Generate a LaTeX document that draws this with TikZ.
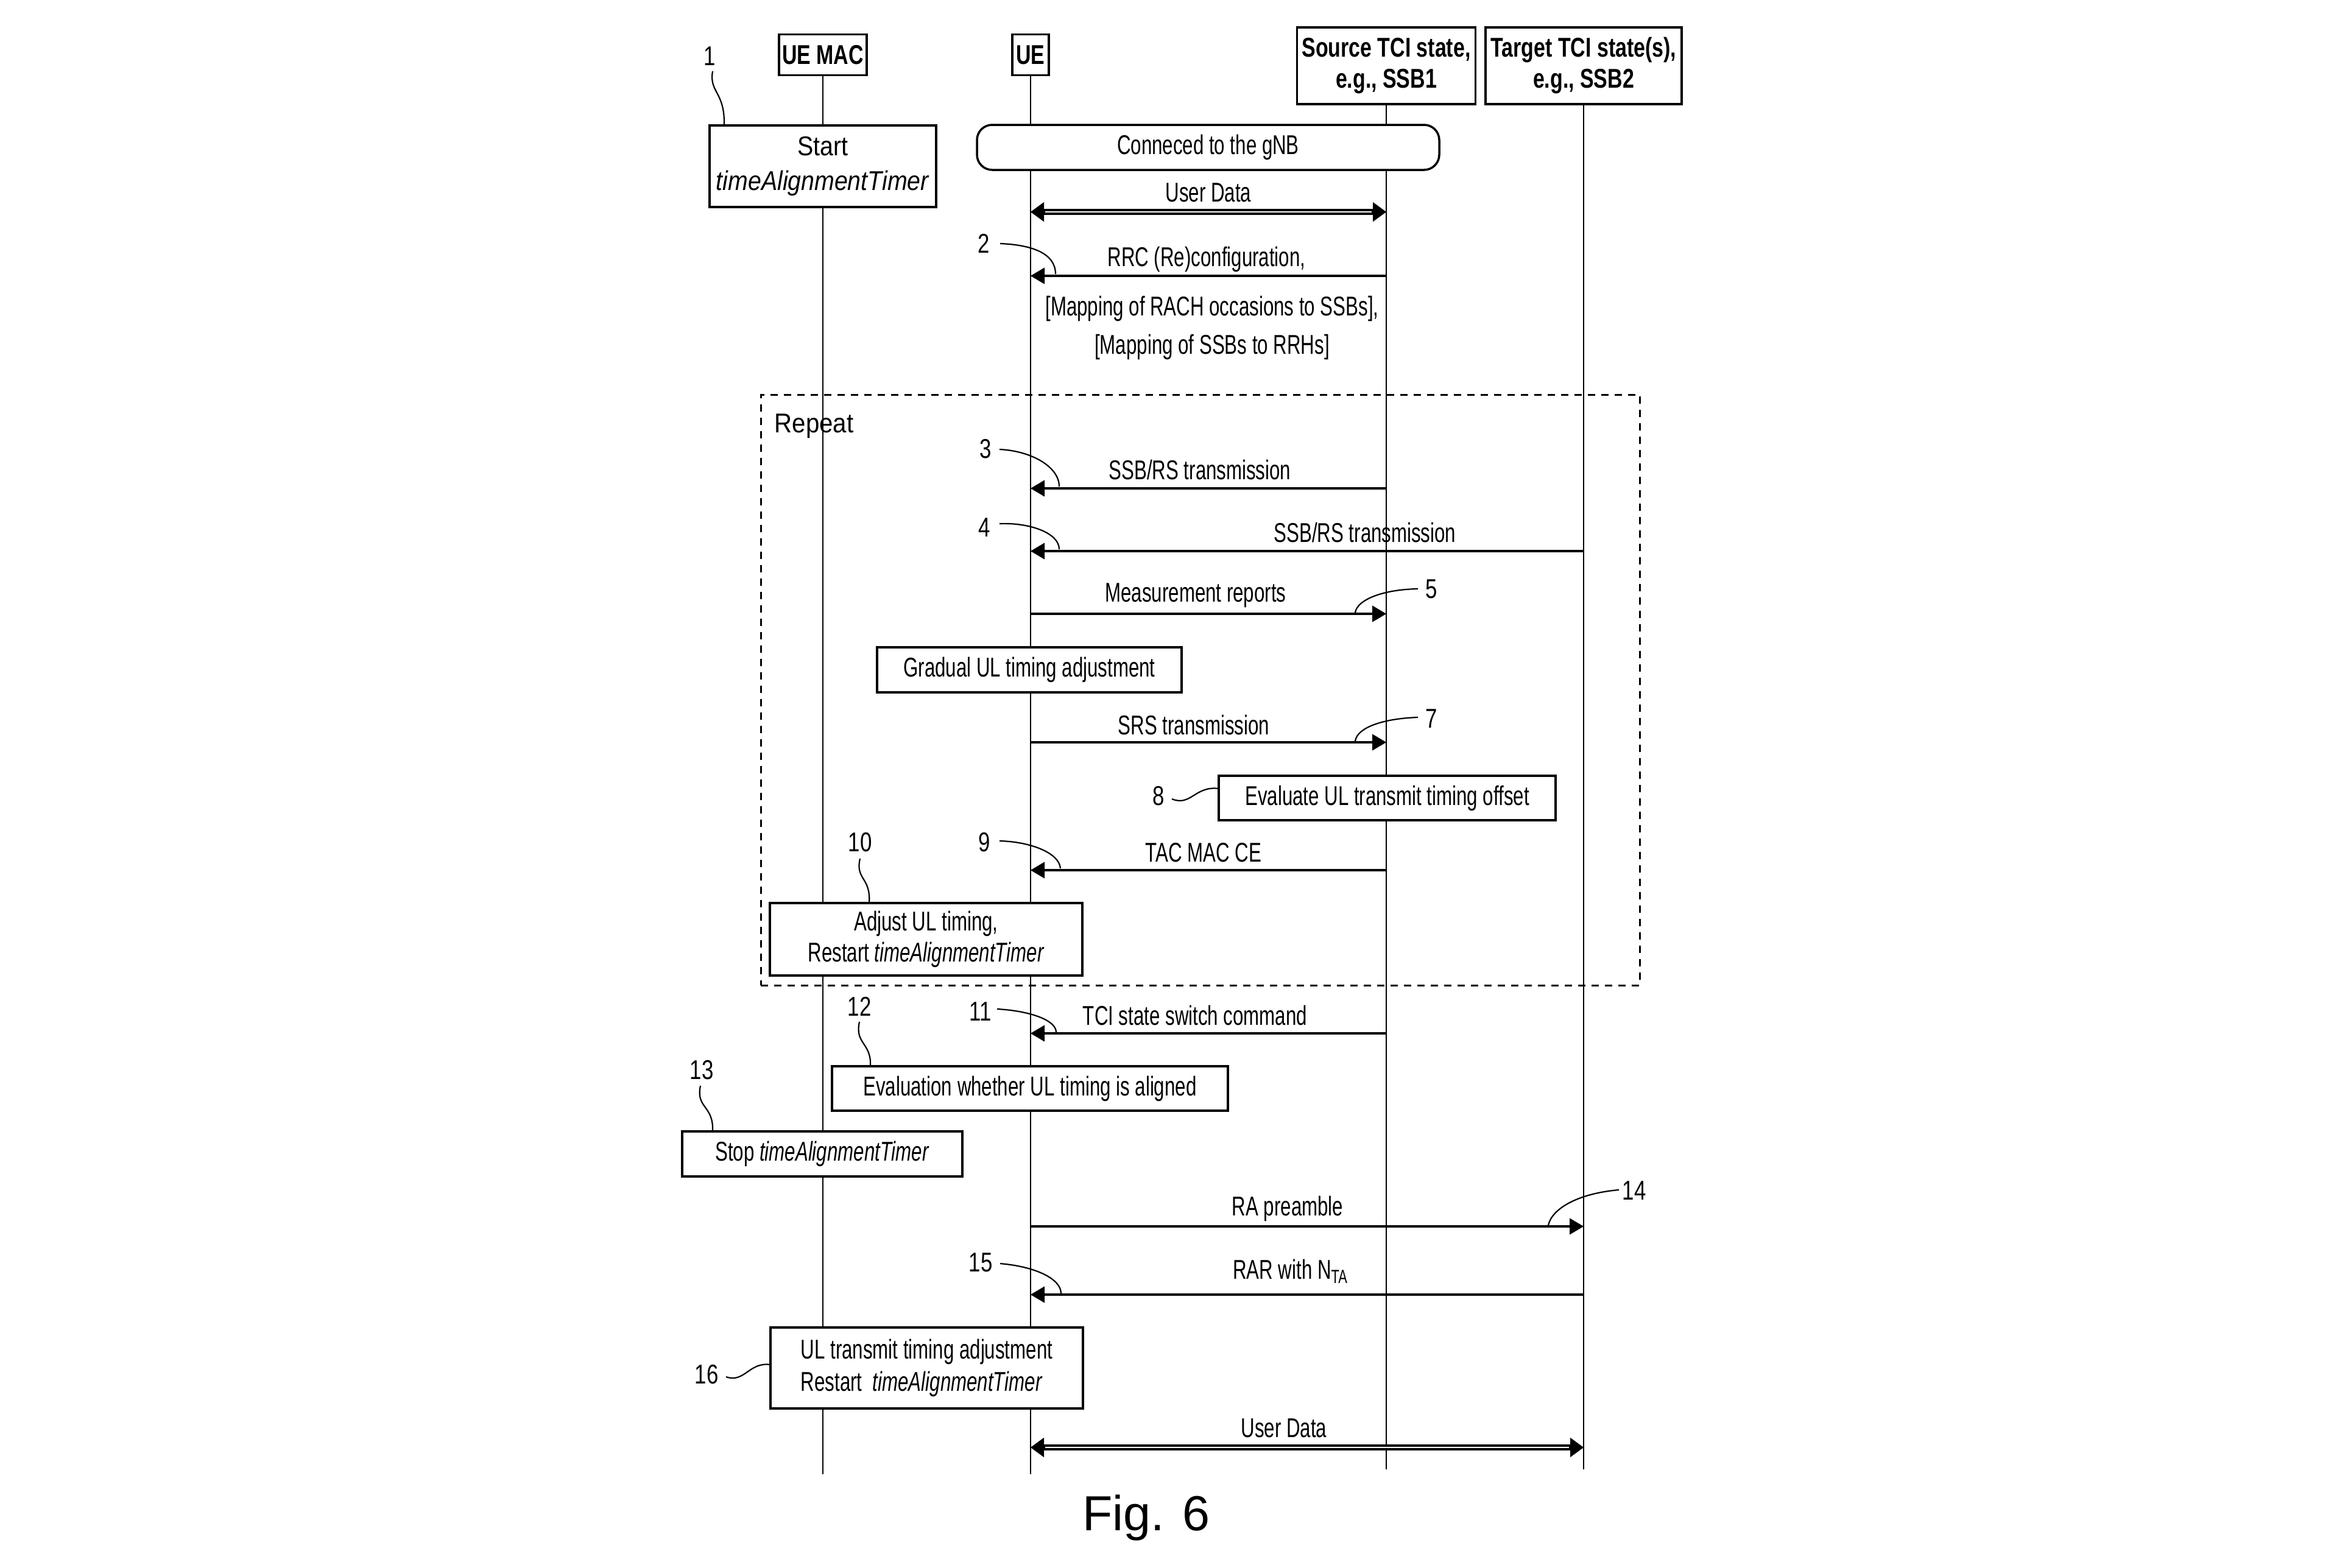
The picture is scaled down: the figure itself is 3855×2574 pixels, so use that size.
\documentclass[tikz,border=0pt]{standalone}
\usepackage{fontspec}
\setmainfont{Liberation Sans}
\newfontfamily\condf[FakeStretch=0.70]{Liberation Sans}
\newfontfamily\condst[FakeStretch=0.88]{Liberation Sans}
\newfontfamily\hdrf[FakeStretch=0.76]{Liberation Sans}
\newfontfamily\numf[FakeStretch=0.78]{Liberation Sans}
\newfontfamily\repf[FakeStretch=0.90]{Liberation Sans}
\usetikzlibrary{arrows.meta}
\newcommand{\myfs}{\fontsize{12.7}{14.5}\selectfont}
\begin{document}
\begin{tikzpicture}[x=0.1mm,y=-0.1mm,
 life/.style={line width=0.25mm},
 hdr/.style={draw,line width=0.35mm,fill=white,inner sep=0,align=center,font=\hdrf\bfseries\myfs},
 box/.style={draw,line width=0.35mm,fill=white,inner sep=0,align=center,font=\condf\myfs},
 repbox/.style={draw,line width=0.3mm,dash pattern=on 1.2mm off 1.0mm,inner sep=0},
 msg/.style={line width=0.4mm,-{Triangle[length=2.3mm,width=2.7mm,line width=0.1mm]}},
 dmsg/.style={line width=1.0mm,{Triangle[length=2.2mm,width=3.2mm,line width=0.1mm]}-{Triangle[length=2.2mm,width=3.2mm,line width=0.1mm]}},
 dinner/.style={white,line width=0.2mm,shorten <=2.4mm,shorten >=2.4mm},
 lab/.style={inner sep=0,font=\condf\myfs},
 num/.style={inner sep=0,font=\numf\myfs},
 lead/.style={line width=0.22mm},
]
\useasboundingbox (0,0) rectangle (3855,2574);

% header boxes
\node[hdr,minimum width=14.4mm,minimum height=6.7mm] (uemac) at (1351,90) {UE MAC};
\node[hdr,minimum width=6mm,minimum height=6.7mm] (ue) at (1692,90) {UE};
\node[hdr,minimum width=29.3mm,minimum height=12.6mm] (src) at (2276,108) {Source TCI state,\\e.g., SSB1};
\node[hdr,minimum width=32.2mm,minimum height=12.6mm] (tgt) at (2600,108) {Target TCI state(s),\\e.g., SSB2};

% lifelines
\coordinate (uemacE) at (uemac.south |- 0,2421);
\coordinate (ueE) at (ue.south |- 0,2421);
\coordinate (srcE) at (src.south |- 0,2413);
\coordinate (tgtE) at (tgt.south |- 0,2413);
\draw[life] (uemac.south) -- (uemacE);
\draw[life] (ue.south) -- (ueE);
\draw[life] (src.south) -- (srcE);
\draw[life] (tgt.south) -- (tgtE);

% repeat frame
\node[repbox,minimum width=144.3mm,minimum height=97mm] (rep) at (1970.5,1133) {};
\node[anchor=base west,inner sep=0,font=\repf\myfs] (replab) at (1271,710) {Repeat};

% boxes
\node[box,font=\condst\fontsize{12.7}{16}\selectfont,minimum width=37.2mm,minimum height=13.4mm] (start) at (1351,273) {Start\\\textit{timeAlignmentTimer}};
\node[box,rounded corners=2.5mm,minimum width=75.9mm,minimum height=7.4mm] (conn) at (1983.5,242) {Conneced to the gNB};
\node[box,minimum width=50mm,minimum height=7.4mm] (grad) at (1690,1100) {Gradual UL timing adjustment};
\node[box,minimum width=55.3mm,minimum height=7.3mm] (eval) at (2277.5,1310.5) {Evaluate UL transmit timing offset};
\node[box,font=\condf\fontsize{12.7}{14.7}\selectfont,minimum width=51.3mm,minimum height=11.9mm] (adj) at (1520.5,1542.5) {Adjust UL timing,\\Restart \textit{timeAlignmentTimer}};
\node[box,minimum width=65mm,minimum height=7.3mm] (evw) at (1691,1787.5) {Evaluation whether UL timing is aligned};
\node[box,minimum width=46mm,minimum height=7.4mm] (stop) at (1350,1895) {Stop \textit{timeAlignmentTimer}};
\node[box,align=left,font=\condf\fontsize{12.7}{15.3}\selectfont,minimum width=51.3mm,minimum height=13.3mm] (ult) at (1521.5,2246.5) {UL transmit timing adjustment\\Restart\ \ \textit{timeAlignmentTimer}};

% messages
\draw[dmsg] (ue |- 0,348) -- (src |- 0,348);
\draw[dinner] (ue |- 0,348) -- (src |- 0,348);
\node[lab,anchor=base] (t1) at (1984,331) {User Data};

\draw[msg] (src |- 0,453) -- (ue |- 0,453);
\node[lab,anchor=base] (t2a) at (1981,437) {RRC (Re)configuration,};
\node[lab,anchor=base] (t2b) at (1990,518) {[Mapping of RACH occasions to SSBs],};
\node[lab,anchor=base] (t2c) at (1990,581) {[Mapping of SSBs to RRHs]};

\draw[msg] (src |- 0,802) -- (ue |- 0,802);
\node[lab,anchor=base] (t3) at (1970,787) {SSB/RS transmission};

\draw[msg] (tgt |- 0,905) -- (ue |- 0,905);
\node[lab,anchor=base] (t4) at (2241,890) {SSB/RS transmission};

\draw[msg] (ue |- 0,1008) -- (src |- 0,1008);
\node[lab,anchor=base] (t5) at (1963,988) {Measurement reports};

\draw[msg] (ue |- 0,1219) -- (src |- 0,1219);
\node[lab,anchor=base] (t7) at (1960,1206) {SRS transmission};

\draw[msg] (src |- 0,1429) -- (ue |- 0,1429);
\node[lab,anchor=base] (t9) at (1976,1415) {TAC MAC CE};

\draw[msg] (src |- 0,1697) -- (ue |- 0,1697);
\node[lab,anchor=base] (t11) at (1962,1683) {TCI state switch command};

\draw[msg] (ue |- 0,2014) -- (tgt |- 0,2014);
\node[lab,anchor=base] (t14) at (2114,1996) {RA preamble};

\draw[msg] (tgt |- 0,2126) -- (ue |- 0,2126);
\node[lab,anchor=base] (t15) at (2119,2100) {RAR with N\textsubscript{TA}};

\draw[dmsg] (ue |- 0,2377) -- (tgt |- 0,2377);
\draw[dinner] (ue |- 0,2377) -- (tgt |- 0,2377);
\node[lab,anchor=base] (t16) at (2108,2360) {User Data};

% reference numerals
\node[num] (n1) at (1165,92) {1};
\node[num] (n2) at (1615,400) {2};
\node[num] (n3) at (1618,737) {3};
\node[num] (n4) at (1616,866) {4};
\node[num] (n5) at (2350,967) {5};
\node[num] (n7) at (2350,1180) {7};
\node[num] (n8) at (1902,1307) {8};
\node[num] (n9) at (1616,1383) {9};
\node[num] (n10) at (1412,1383) {10};
\node[num] (n11) at (1610,1661) {11};
\node[num] (n12) at (1411,1653) {12};
\node[num] (n13) at (1152,1757) {13};
\node[num] (n14) at (2683,1955) {14};
\node[num] (n15) at (1610,2073) {15};
\node[num] (n16) at (1160,2257) {16};

% leader lines
\draw[lead] (1170,117) .. controls (1164,152) and (1190,150) .. (1189,205);
\draw[lead] (1642,400) .. controls (1692,402) and (1733,415) .. (1733,450);
\draw[lead] (1641,738) .. controls (1690,740) and (1739,765) .. (1739,799);
\draw[lead] (1641,860) .. controls (1690,858) and (1739,875) .. (1739,902);
\draw[lead] (2328,967) .. controls (2270,968) and (2228,985) .. (2225,1006);
\draw[lead] (2328,1178) .. controls (2270,1180) and (2228,1195) .. (2225,1217);
\draw[lead] (1924,1312) .. controls (1955,1325) and (1962,1290) .. (2001,1295);
\draw[lead] (1641,1381) .. controls (1690,1382) and (1739,1400) .. (1741,1426);
\draw[lead] (1412,1410) .. controls (1404,1445) and (1430,1440) .. (1427,1483);
\draw[lead] (1637,1657) .. controls (1690,1660) and (1734,1675) .. (1734,1695);
\draw[lead] (1411,1678) .. controls (1403,1715) and (1431,1712) .. (1429,1751);
\draw[lead] (1150,1783) .. controls (1142,1820) and (1172,1815) .. (1170,1858);
\draw[lead] (2658,1954) .. controls (2590,1960) and (2548,1985) .. (2542,2012);
\draw[lead] (1642,2075) .. controls (1700,2080) and (1742,2100) .. (1742,2124);
\draw[lead] (1192,2261) .. controls (1222,2272) and (1230,2236) .. (1265,2241);

% caption
\node[inner sep=0,anchor=base,font=\fontsize{23}{27}\selectfont] (fig) at (1882,2513) {Fig. 6};
\end{tikzpicture}
\end{document}
